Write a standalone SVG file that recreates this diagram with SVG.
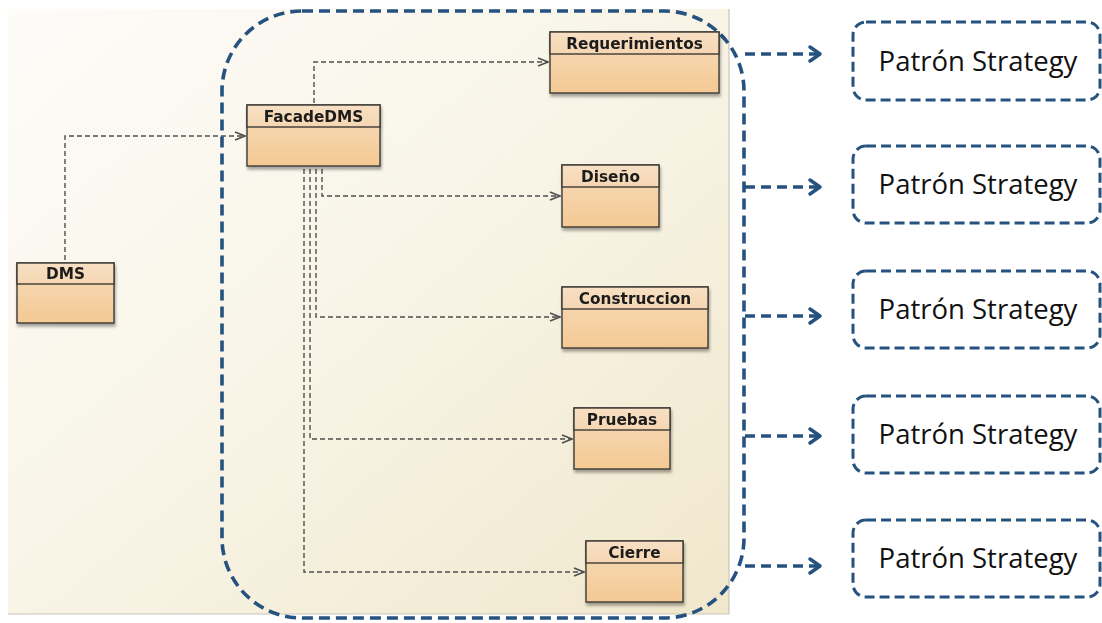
<svg xmlns="http://www.w3.org/2000/svg" width="1102" height="623" viewBox="0 0 1102 623">
  <style>
    .cls-border { fill: url(#bodyGrad); stroke: #3c3a36; stroke-width: 1.4; }
    .cls-head { fill: url(#headGrad); stroke: #3c3a36; stroke-width: 1.4; }
    .cls-name { font-family: "DejaVu Sans", sans-serif; font-weight: bold; font-size: 15.3px; fill: #1a1a1a; text-anchor: middle; }
    .dep { fill: none; stroke: #4f4f4f; stroke-width: 1.4; stroke-dasharray: 5 3; marker-end: url(#openArrow); }
    .group-outline { fill: none; stroke: #26527f; stroke-width: 3.6; stroke-dasharray: 11 6; }
    .link { fill: none; stroke: #26527f; stroke-width: 3.5; stroke-dasharray: 10 6; }
    .link-head { fill: none; stroke: #26527f; stroke-width: 3.5; stroke-linecap: round; stroke-linejoin: round; }
    .strategy-box { fill: #ffffff; stroke: #26527f; stroke-width: 3; stroke-dasharray: 10 5; }
    .strategy-label { font-family: "Open Sans", "Noto Sans", sans-serif; font-size: 27.5px; fill: #111111; text-anchor: middle; }
  </style>
  <defs>
    <linearGradient id="panelGrad" x1="0" y1="0" x2="1" y2="1">
      <stop offset="0" stop-color="#fdfcf9"/>
      <stop offset="0.5" stop-color="#f8f4e6"/>
      <stop offset="1" stop-color="#f0e7cc"/>
    </linearGradient>
    <linearGradient id="headGrad" x1="0" y1="0" x2="0" y2="1">
      <stop offset="0" stop-color="#f8e0c4"/>
      <stop offset="1" stop-color="#f5d6b2"/>
    </linearGradient>
    <linearGradient id="bodyGrad" x1="0" y1="0" x2="0" y2="1">
      <stop offset="0" stop-color="#f7dcbd"/>
      <stop offset="1" stop-color="#f4c993"/>
    </linearGradient>
    <filter id="shadow" x="-10%" y="-10%" width="130%" height="140%">
      <feGaussianBlur in="SourceAlpha" stdDeviation="1.5"/>
      <feOffset dx="1" dy="3" result="b"/>
      <feComponentTransfer><feFuncA type="linear" slope="0.35"/></feComponentTransfer>
      <feMerge><feMergeNode/><feMergeNode in="SourceGraphic"/></feMerge>
    </filter>
    <marker id="openArrow" viewBox="0 0 12 10" refX="11" refY="5" markerWidth="12" markerHeight="10" markerUnits="userSpaceOnUse" orient="auto">
      <path d="M1 1 L11 5 L1 9" fill="none" stroke="#4f4f4f" stroke-width="1.5"/>
    </marker>
  </defs>

  <rect width="1102" height="623" fill="#ffffff"/>

  <!-- UML canvas -->
  <rect x="8" y="9" width="721" height="605" fill="url(#panelGrad)"/>
  <path d="M729 9 V614 H8" fill="none" stroke="#c9c5b9" stroke-width="1.2"/>

  <!-- dependency connectors -->
  <g id="connectors">
    <path class="dep" d="M65 260 V136 H245"/>
    <path class="dep" d="M314 103 V62 H548"/>
    <path class="dep" d="M322 169 V196 H560"/>
    <path class="dep" d="M316 169 V317 H560"/>
    <path class="dep" d="M310 169 V439 H572"/>
    <path class="dep" d="M304 169 V572 H584"/>

    <!-- links from the grouped classes to the strategy notes -->
    <path class="link" d="M745 54 H818"/>
    <path class="link" d="M745 187 H818"/>
    <path class="link" d="M745 316 H818"/>
    <path class="link" d="M745 436 H818"/>
    <path class="link" d="M745 566 H818"/>
    <path class="link-head" d="M810 47 L820 54 L810 61"/>
    <path class="link-head" d="M810 180 L820 187 L810 194"/>
    <path class="link-head" d="M810 309 L820 316 L810 323"/>
    <path class="link-head" d="M810 429 L820 436 L810 443"/>
    <path class="link-head" d="M810 559 L820 566 L810 573"/>
  </g>

  <!-- group outline around the facade subsystem -->
  <rect id="subsystem" class="group-outline" x="222" y="11" width="522" height="607" rx="80" ry="80"/>

  <g id="DMS" filter="url(#shadow)">
    <rect class="cls-border" x="17" y="263" width="97" height="60"/>
    <rect class="cls-head" x="17" y="263" width="97" height="21"/>
    <text class="cls-name" x="65.5" y="279">DMS</text>
  </g>

  <g id="FacadeDMS" filter="url(#shadow)">
    <rect class="cls-border" x="247" y="105" width="133" height="61"/>
    <rect class="cls-head" x="247" y="105" width="133" height="22"/>
    <text class="cls-name" x="313.5" y="121.5">FacadeDMS</text>
  </g>

  <g id="Requerimientos" filter="url(#shadow)">
    <rect class="cls-border" x="550" y="32" width="169" height="61"/>
    <rect class="cls-head" x="550" y="32" width="169" height="22"/>
    <text class="cls-name" x="634.5" y="48.5">Requerimientos</text>
  </g>

  <g id="Diseno" filter="url(#shadow)">
    <rect class="cls-border" x="562" y="165" width="97" height="62"/>
    <rect class="cls-head" x="562" y="165" width="97" height="22"/>
    <text class="cls-name" x="610.5" y="181.5">Diseño</text>
  </g>

  <g id="Construccion" filter="url(#shadow)">
    <rect class="cls-border" x="562" y="287" width="146" height="61"/>
    <rect class="cls-head" x="562" y="287" width="146" height="22"/>
    <text class="cls-name" x="635" y="303.5">Construccion</text>
  </g>

  <g id="Pruebas" filter="url(#shadow)">
    <rect class="cls-border" x="574" y="408" width="96" height="61"/>
    <rect class="cls-head" x="574" y="408" width="96" height="22"/>
    <text class="cls-name" x="622" y="424.5">Pruebas</text>
  </g>

  <g id="Cierre" filter="url(#shadow)">
    <rect class="cls-border" x="586" y="541" width="97" height="61"/>
    <rect class="cls-head" x="586" y="541" width="97" height="22"/>
    <text class="cls-name" x="634.5" y="557.5">Cierre</text>
  </g>

  <!-- strategy notes -->
  <g id="strategy1">
    <rect class="strategy-box" x="853" y="22" width="247" height="78" rx="13"/>
    <text class="strategy-label" x="978" y="71">Patrón Strategy</text>
  </g>
  <g id="strategy2">
    <rect class="strategy-box" x="853" y="146" width="247" height="77" rx="13"/>
    <text class="strategy-label" x="978" y="194">Patrón Strategy</text>
  </g>
  <g id="strategy3">
    <rect class="strategy-box" x="853" y="271" width="247" height="77" rx="13"/>
    <text class="strategy-label" x="978" y="319">Patrón Strategy</text>
  </g>
  <g id="strategy4">
    <rect class="strategy-box" x="853" y="396" width="247" height="77" rx="13"/>
    <text class="strategy-label" x="978" y="444">Patrón Strategy</text>
  </g>
  <g id="strategy5">
    <rect class="strategy-box" x="853" y="520" width="247" height="77" rx="13"/>
    <text class="strategy-label" x="978" y="568">Patrón Strategy</text>
  </g>
</svg>
